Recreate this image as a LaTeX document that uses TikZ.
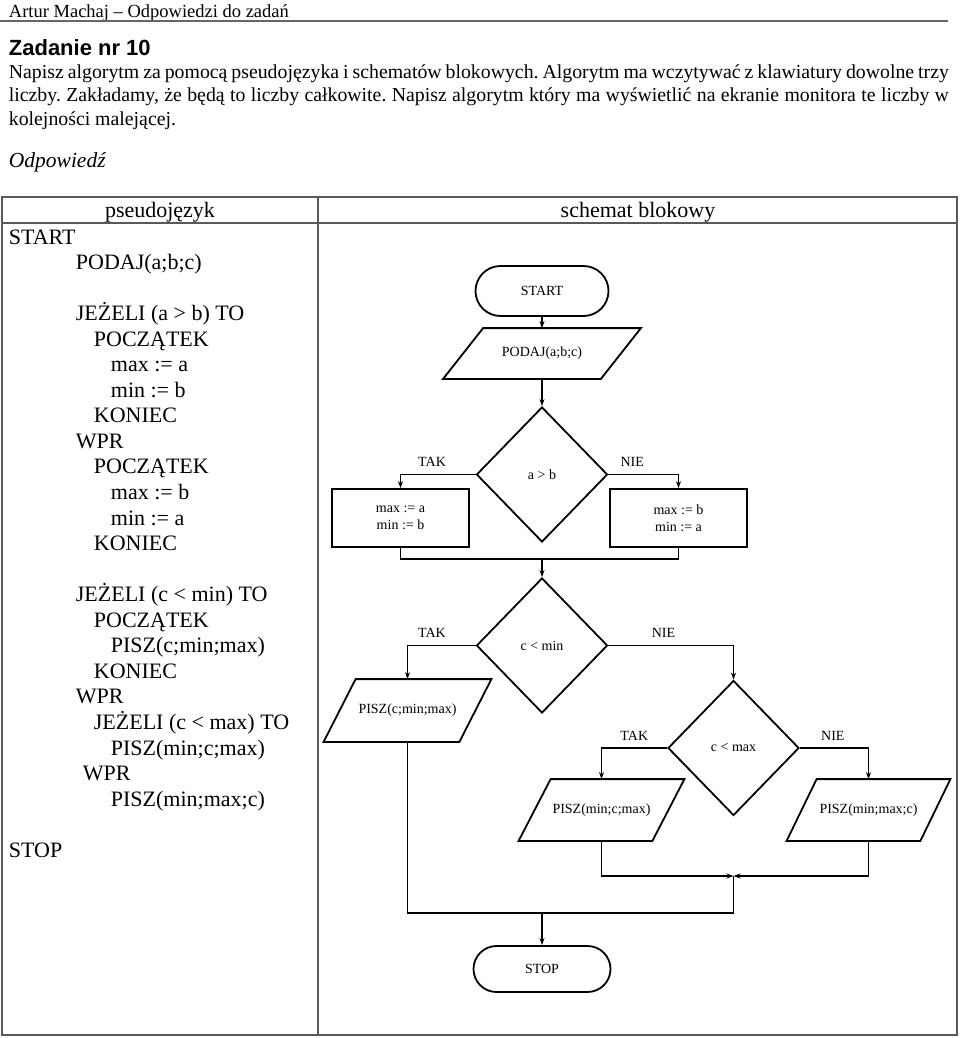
\documentclass[tikz,border=0pt]{standalone}
\usepackage{fontspec}
\setmainfont{Liberation Serif}
\newfontfamily\arialfont{Liberation Sans}
\usetikzlibrary{shapes.geometric,shapes.misc,arrows.meta}

\tikzstyle{term}=[shape=rounded rectangle,
                  draw=black,
                  inner sep=0pt,
                  font=\fontsize{14}{16.5}\selectfont]
\tikzstyle{proc}=[shape=rectangle,
                  draw=black,
                  minimum width=137pt,
                  minimum height=58pt,
                  inner sep=0pt,
                  align=center,
                  font=\fontsize{14}{16.5}\selectfont]
\tikzstyle{io}=[shape=rectangle,
                inner sep=0pt,
                minimum width=132pt,
                minimum height=60pt,
                font=\fontsize{14}{16.5}\selectfont]
\tikzstyle{dec}=[shape=diamond,
                 draw=black,
                 minimum width=131pt,
                 minimum height=135pt,
                 inner sep=0pt,
                 font=\fontsize{14}{16.5}\selectfont]
\tikzstyle{lbl}=[inner sep=0pt,
                 above=7pt,
                 font=\fontsize{14}{16.5}\selectfont]
\tikzstyle{ps}=[anchor=base west,
                inner sep=0pt,
                font=\fontsize{22}{25}\selectfont]
\tikzstyle{tab}=[line width=1.2pt,
                 draw=black!65]

\begin{document}
\frenchspacing
\begin{tikzpicture}[x=1pt,y=-1pt,>={Stealth[length=7pt,width=5pt]},line width=1.8pt]
\useasboundingbox (0,0) rectangle (960,1038);

% page head and task
\node[anchor=base west,inner sep=0pt,font=\fontsize{18.5}{20}\selectfont] (head) at (8,18) {Artur Machaj – Odpowiedzi do zadań};
\draw[line width=1.5pt,black!60] (0,21) -- (948,21);
\node[anchor=base west,inner sep=0pt,font=\arialfont\bfseries\fontsize{22}{24}\selectfont] (task) at (8,56) {Zadanie nr 10};
\node[anchor=base west,inner sep=0pt,font=\fontsize{19.8}{23}\selectfont] (txt1) at (8,79)
  {\makebox[940pt][s]{Napisz algorytm za pomocą pseudojęzyka i schematów blokowych. Algorytm ma wczytywać z klawiatury dowolne trzy}};
\node[anchor=base west,inner sep=0pt,font=\fontsize{19.8}{23}\selectfont] (txt2) at (8,102)
  {\makebox[940pt][s]{liczby. Zakładamy, że będą to liczby całkowite. Napisz algorytm który ma wyświetlić na ekranie monitora te liczby w}};
\node[anchor=base west,inner sep=0pt,font=\fontsize{19.8}{23}\selectfont] (txt3) at (8,125) {kolejności malejącej.};
\node[anchor=base west,inner sep=0pt,font=\itshape\fontsize{21.5}{25}\selectfont] (odp) at (8,167) {Odpowiedź};

% table
\draw[tab] (2,197) rectangle (957,1035);
\draw[tab] (2,223) -- (957,223);
\draw[tab] (318,197) -- (318,1035);
\node[anchor=base,inner sep=0pt,font=\fontsize{22}{25}\selectfont] (colA) at (160,217) {pseudojęzyk};
\node[anchor=base,inner sep=0pt,font=\fontsize{22}{25}\selectfont] (colB) at (638,217) {schemat blokowy};

% pseudo code
\foreach \n/\x/\t in {0/8/START, 1/75/PODAJ(a;b;c),
    3/75/JEŻELI (a > b) TO, 4/93/POCZĄTEK, 5/110/max := a, 6/110/min := b, 7/93/KONIEC,
    8/75/WPR, 9/93/POCZĄTEK, 10/110/max := b, 11/110/min := a, 12/93/KONIEC,
    14/75/JEŻELI (c < min) TO, 15/93/POCZĄTEK, 16/110/PISZ(c;min;max), 17/93/KONIEC,
    18/75/WPR, 19/93/JEŻELI (c < max) TO, 20/110/PISZ(min;c;max), 21/82/WPR,
    22/110/PISZ(min;max;c), 24/8/STOP}
  \node[ps] (ps\n) at (\x,244+25.55*\n) {\t};

% flow chart blocks
\node[term,minimum width=133pt,minimum height=50pt] (start) at (542,291) {START};
\node[io,minimum width=156pt,minimum height=49pt] (podaj) at (542,353.5) {PODAJ(a;b;c)};
\node[dec] (ab) at (542,474.5) {a > b};
\node[proc] (yes1) at (400.5,518) {max := a\\min := b};
\node[proc] (no1) at (678.5,518) {max := b\\min := a};
\coordinate (j1) at (542,559);
\node[dec] (cmin) at (542,645.5) {c < min};
\node[io,minimum width=134pt,minimum height=61pt] (out1) at (407.5,710.5) {PISZ(c;min;max)};
\node[dec] (cmax) at (733.5,748) {c < max};
\node[io] (out2) at (601.5,810) {PISZ(min;c;max)};
\node[io] (out3) at (868.5,810) {PISZ(min;max;c)};
\coordinate (j2) at (733.5,876);
\coordinate (j3) at (542,913);
\node[term,minimum width=137pt,minimum height=46pt] (stop) at (542,969) {STOP};

% slanted sides of the input/output blocks
\draw ([xshift=-20pt]podaj.south west) -- ([xshift=-20pt]podaj.south east)
   -- ([xshift=20pt]podaj.north east) -- ([xshift=20pt]podaj.north west) -- cycle;
\draw ([xshift=-16pt]out1.south west) -- ([xshift=-16pt]out1.south east)
   -- ([xshift=16pt]out1.north east) -- ([xshift=16pt]out1.north west) -- cycle;
\draw ([xshift=-16pt]out2.south west) -- ([xshift=-16pt]out2.south east)
   -- ([xshift=16pt]out2.north east) -- ([xshift=16pt]out2.north west) -- cycle;
\draw ([xshift=-15pt]out3.south west) -- ([xshift=-15pt]out3.south east)
   -- ([xshift=15pt]out3.north east) -- ([xshift=15pt]out3.north west) -- cycle;

% connectors
\draw[->] (start) -- (podaj);
\draw[->] (podaj) -- (ab);
\draw[->] (ab) -| node[lbl,pos=0.29] {TAK} (yes1);
\draw[->] (ab) -| node[lbl,pos=0.17] {NIE} (no1);
\draw (yes1) |- (j1) -| (no1);
\draw[->] (j1) -- (cmin);
\draw[->] (cmin) -| node[lbl,pos=0.32] {TAK} (out1);
\draw[->] (cmin) -| node[lbl,pos=0.22] {NIE} (cmax);
\draw[->] (cmax) -| node[lbl,pos=0.25] {TAK} (out2);
\draw[->] (cmax) -| node[lbl,pos=0.24] {NIE} (out3);
\draw[->] (out2) |- (j2);
\draw[->] (out3) |- (j2);
\draw (out1) |- (j3) -| (j2);
\draw[->] (j3) -- (stop);

\end{tikzpicture}
\end{document}
